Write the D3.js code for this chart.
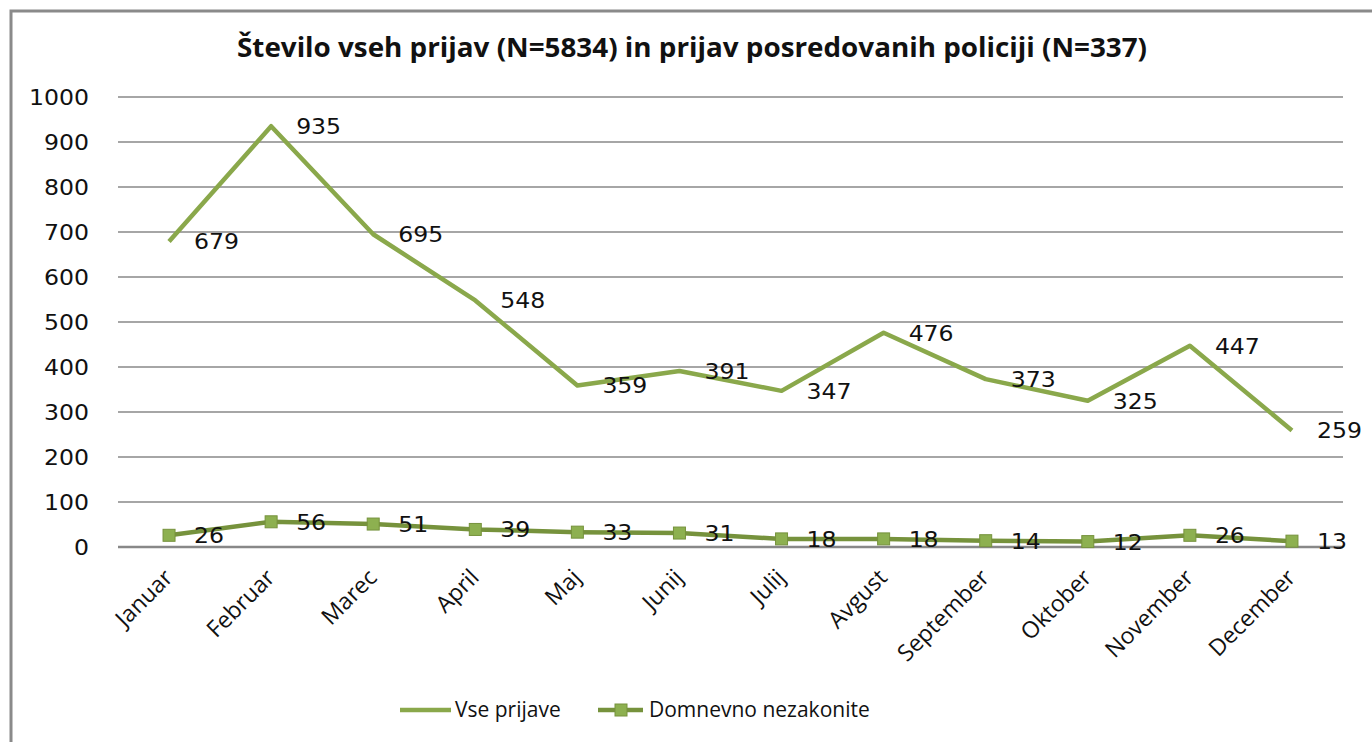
<!DOCTYPE html>
<html>
<head>
<meta charset="utf-8">
<script src="https://cdn.jsdelivr.net/npm/d3@7"></script>
<style>
  body { margin: 0; background: #fff; }
  svg { display: block; }
</style>
</head>
<body>
<svg width="1372" height="742"></svg>
<script>
const months = ['Januar', 'Februar', 'Marec', 'April', 'Maj', 'Junij', 'Julij', 'Avgust', 'September', 'Oktober', 'November', 'December'];
const vsePrijave = [679, 935, 695, 548, 359, 391, 347, 476, 373, 325, 447, 259];
const domnevno = [26, 56, 51, 39, 33, 31, 18, 18, 14, 12, 26, 13];
const yTicks = [0, 100, 200, 300, 400, 500, 600, 700, 800, 900, 1000];
const title = 'Število vseh prijav (N=5834) in prijav posredovanih policiji (N=337)';
const seriesNames = ['Vse prijave', 'Domnevno nezakonite'];

const svg = d3.select('svg');
const width = +svg.attr('width');
const height = +svg.attr('height');

const plot = { left: 118, right: 1343, top: 97, bottom: 547 };
const lightGreen = '#8aa84b';
const darkGreen = '#76923c';
const markerGreen = '#8db050';
const labelFont = '"DejaVu Sans", sans-serif';
const textFont = '"Open Sans", "Liberation Sans", sans-serif';
const digitW = 15; // the number font is drawn wide

// frame
svg.append('rect')
  .attr('x', 11).attr('y', 11)
  .attr('width', width + 20).attr('height', height + 20)
  .attr('fill', 'none')
  .attr('stroke', '#8a8a8a')
  .attr('stroke-width', 3);

const x = d3.scaleBand()
  .domain(months)
  .range([plot.left, plot.right]);

const y = d3.scaleLinear()
  .domain([0, 1000])
  .range([plot.bottom, plot.top]);

const cx = d => x(d) + x.bandwidth() / 2;

// gridlines
svg.append('g')
  .selectAll('line')
  .data(yTicks)
  .join('line')
    .attr('x1', plot.left)
    .attr('x2', plot.right)
    .attr('y1', d => y(d))
    .attr('y2', d => y(d))
    .attr('stroke', '#888')
    .attr('stroke-width', d => d === 0 ? 2.5 : 1.5);

// y axis labels
const yAxis = d3.axisLeft(y).tickValues(yTicks).tickFormat(d3.format('d')).tickSize(0).tickPadding(0);
svg.append('g')
  .attr('transform', `translate(89,0)`)
  .call(yAxis)
  .call(g => g.select('.domain').remove())
  .selectAll('text')
    .attr('font-family', labelFont)
    .attr('font-size', 22)
    .attr('fill', '#111')
    .attr('dy', '0.36em')
    .attr('textLength', d => String(d).length * digitW)
    .attr('lengthAdjust', 'spacingAndGlyphs');

// x axis labels
const xAxis = d3.axisBottom(x).tickSize(0).tickPadding(0);
svg.append('g')
  .attr('transform', `translate(0,${plot.bottom})`)
  .call(xAxis)
  .call(g => g.select('.domain').remove())
  .selectAll('text')
    .attr('font-family', textFont)
    .attr('font-size', 23)
    .attr('fill', '#111')
    .attr('text-anchor', 'end')
    .attr('dy', 0)
    .attr('transform', 'translate(5,32) rotate(-45)');

// lines
const lineGen = d3.line()
  .x((d, i) => cx(months[i]))
  .y(d => y(d));

svg.append('path')
  .datum(vsePrijave)
  .attr('d', lineGen)
  .attr('fill', 'none')
  .attr('stroke', lightGreen)
  .attr('stroke-width', 4.5)
  .attr('stroke-linejoin', 'round');

svg.append('path')
  .datum(domnevno)
  .attr('d', lineGen)
  .attr('fill', 'none')
  .attr('stroke', darkGreen)
  .attr('stroke-width', 4.5)
  .attr('stroke-linejoin', 'round');

svg.append('g')
  .selectAll('rect')
  .data(domnevno)
  .join('rect')
    .attr('x', (d, i) => cx(months[i]) - 6)
    .attr('y', d => y(d) - 6)
    .attr('width', 12)
    .attr('height', 12)
    .attr('fill', markerGreen)
    .attr('stroke', darkGreen)
    .attr('stroke-width', 1);

// data labels
const addLabels = (data) => {
  svg.append('g')
    .selectAll('text')
    .data(data)
    .join('text')
      .attr('x', (d, i) => cx(months[i]) + 25)
      .attr('y', d => y(d))
      .attr('dy', '0.36em')
      .attr('font-family', labelFont)
      .attr('font-size', 22)
      .attr('fill', '#111')
      .attr('textLength', d => String(d).length * digitW)
      .attr('lengthAdjust', 'spacingAndGlyphs')
      .text(d => d);
};
addLabels(vsePrijave);
addLabels(domnevno);

// title
svg.append('text')
  .attr('x', 692)
  .attr('y', 57)
  .attr('text-anchor', 'middle')
  .attr('font-family', textFont)
  .attr('font-weight', 'bold')
  .attr('font-size', 26)
  .attr('fill', '#111')
  .attr('textLength', 910)
  .attr('lengthAdjust', 'spacingAndGlyphs')
  .text(title);

// legend
const legend = svg.append('g');
legend.append('line')
  .attr('x1', 400).attr('x2', 451)
  .attr('y1', 710).attr('y2', 710)
  .attr('stroke', lightGreen).attr('stroke-width', 4.5);
legend.append('text')
  .attr('x', 455).attr('y', 710).attr('dy', '0.35em')
  .attr('font-family', textFont).attr('font-size', 21).attr('fill', '#111')
  .text(seriesNames[0]);
legend.append('line')
  .attr('x1', 598).attr('x2', 643)
  .attr('y1', 710).attr('y2', 710)
  .attr('stroke', darkGreen).attr('stroke-width', 4.5);
legend.append('rect')
  .attr('x', 615).attr('y', 704)
  .attr('width', 12).attr('height', 12)
  .attr('fill', markerGreen).attr('stroke', darkGreen).attr('stroke-width', 1);
legend.append('text')
  .attr('x', 649).attr('y', 710).attr('dy', '0.35em')
  .attr('font-family', textFont).attr('font-size', 21).attr('fill', '#111')
  .text(seriesNames[1]);
</script>
</body>
</html>
